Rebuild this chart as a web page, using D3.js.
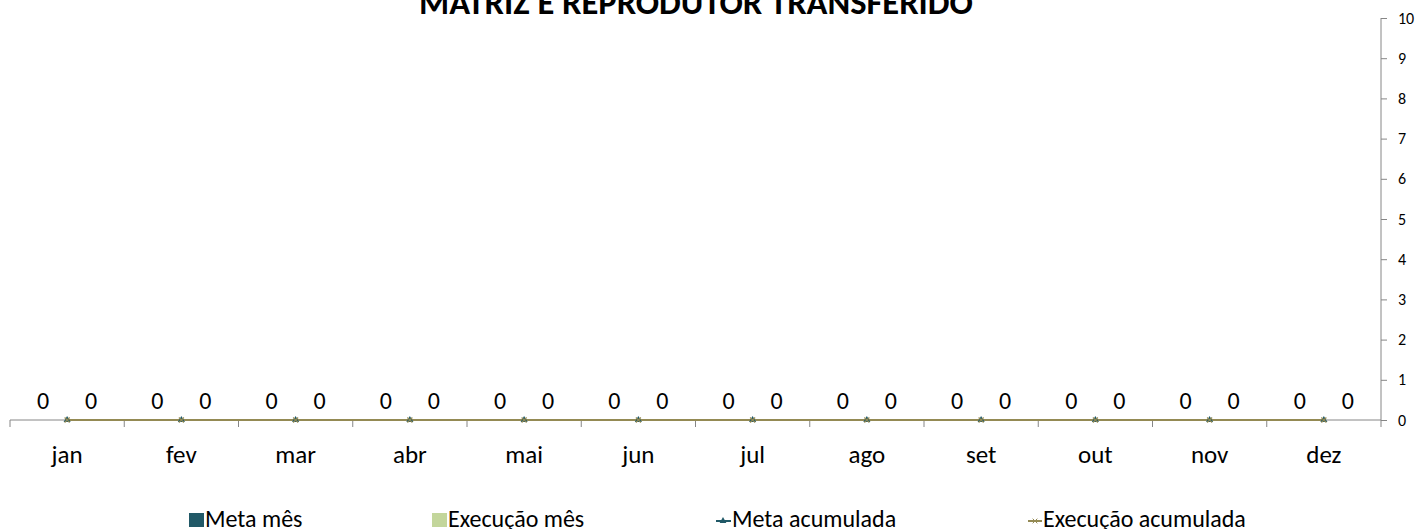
<!DOCTYPE html>
<html>
<head>
<meta charset="utf-8">
<script src="https://cdn.jsdelivr.net/npm/d3@7"></script>
<style>
  body { margin: 0; background: #fff; }
  svg { font-family: Carlito, Calibri, Lato, "Open Sans", sans-serif; }
</style>
</head>
<body>
<div id="chart"></div>
<script>
// chart data
const months = ["jan", "fev", "mar", "abr", "mai", "jun", "jul", "ago", "set", "out", "nov", "dez"];
const metaMes = [0, 0, 0, 0, 0, 0, 0, 0, 0, 0, 0, 0];
const execucaoMes = [0, 0, 0, 0, 0, 0, 0, 0, 0, 0, 0, 0];
const metaAcumulada = [0, 0, 0, 0, 0, 0, 0, 0, 0, 0, 0, 0];
const execucaoAcumulada = [0, 0, 0, 0, 0, 0, 0, 0, 0, 0, 0, 0];
const yTicks = [0, 1, 2, 3, 4, 5, 6, 7, 8, 9, 10];

const width = 1418, height = 529;
const plot = { left: 10, right: 1381, top: 18, bottom: 420 };
const colors = { meta: "#215967", exec: "#c3d69b", metaAcc: "#215967", execAcc: "#948a54", axis: "#868686" };

const svg = d3.select("#chart").append("svg")
  .attr("width", width).attr("height", height);

const x = d3.scaleBand().domain(months).range([plot.left, plot.right]);
const xSeries = d3.scaleBand().domain(["meta", "exec"]).range([0, x.bandwidth()]).paddingInner(0).paddingOuter(0.19);
const y = d3.scaleLinear().domain([0, 10]).range([plot.bottom, plot.top]);

// title (top is cut off in the original too)
svg.append("text")
  .attr("x", 696).attr("y", 14)
  .attr("text-anchor", "middle")
  .attr("font-size", 34.5).attr("font-weight", "bold")
  .text("MATRIZ E REPRODUTOR TRANSFERIDO");

// right value axis
const yAxis = svg.append("g")
  .attr("transform", `translate(${plot.right},0)`)
  .call(d3.axisRight(y).tickValues(yTicks).tickSize(6).tickPadding(11).tickFormat(d3.format("d")));
yAxis.select(".domain").attr("stroke", colors.axis).attr("d", `M0,${plot.top}V${plot.bottom}`);
yAxis.selectAll(".tick line").attr("stroke", colors.axis);
yAxis.selectAll(".tick text").attr("font-size", 16).attr("fill", "#000").attr("font-family", "Carlito, Calibri, Lato, sans-serif");

// category axis
const xAxis = svg.append("g").attr("transform", `translate(0,${plot.bottom})`);
xAxis.append("line")
  .attr("x1", plot.left).attr("x2", plot.right)
  .attr("stroke", colors.axis);
const boundaries = months.map(m => x(m)).concat([plot.right]);
xAxis.selectAll("line.tick").data(boundaries).join("line")
  .attr("class", "tick")
  .attr("x1", d => d).attr("x2", d => d)
  .attr("y1", 0).attr("y2", 7)
  .attr("stroke", colors.axis);
xAxis.selectAll("text").data(months).join("text")
  .attr("x", d => x(d) + x.bandwidth() / 2)
  .attr("y", 43)
  .attr("text-anchor", "middle")
  .attr("font-size", 25)
  .text(d => d);

// bars
const barData = months.flatMap((m, i) => [
  { m, key: "meta", v: metaMes[i] },
  { m, key: "exec", v: execucaoMes[i] }
]);
svg.append("g").selectAll("rect").data(barData).join("rect")
  .attr("x", d => x(d.m) + xSeries(d.key))
  .attr("width", xSeries.bandwidth())
  .attr("y", d => y(d.v))
  .attr("height", d => y(0) - y(d.v))
  .attr("fill", d => d.key === "meta" ? colors.meta : colors.exec);

// bar data labels
svg.append("g").selectAll("text").data(barData).join("text")
  .attr("x", d => x(d.m) + xSeries(d.key) + xSeries.bandwidth() / 2)
  .attr("y", d => y(d.v) - 11)
  .attr("text-anchor", "middle")
  .attr("font-size", 24)
  .text(d => d.v);

// cumulative lines
const cx = m => x(m) + x.bandwidth() / 2;
const line = d3.line().x(d => cx(d.m)).y(d => y(d.v));
const metaAccData = months.map((m, i) => ({ m, v: metaAcumulada[i] }));
const execAccData = months.map((m, i) => ({ m, v: execucaoAcumulada[i] }));

svg.append("path").datum(metaAccData)
  .attr("d", line).attr("fill", "none").attr("stroke", colors.metaAcc).attr("stroke-width", 2);
svg.append("path").datum(execAccData)
  .attr("d", line).attr("fill", "none").attr("stroke", colors.execAcc).attr("stroke-width", 2);

svg.append("g").selectAll("path").data(metaAccData).join("path")
  .attr("transform", d => `translate(${cx(d.m)},${y(d.v)})`)
  .attr("d", d3.symbol(d3.symbolTriangle, 22))
  .attr("fill", colors.metaAcc);
svg.append("g").selectAll("path").data(execAccData).join("path")
  .attr("transform", d => `translate(${cx(d.m)},${y(d.v)})`)
  .attr("d", d3.symbol(d3.symbolTimes, 18))
  .attr("fill", "none").attr("stroke", colors.execAcc).attr("stroke-width", 1.2);

// legend
const legend = svg.append("g").attr("font-size", 24);
const ly = 527;
legend.append("rect").attr("x", 189).attr("y", ly - 14).attr("width", 15).attr("height", 14).attr("fill", colors.meta);
legend.append("text").attr("x", 205).attr("y", ly).text("Meta mês");
legend.append("rect").attr("x", 432).attr("y", ly - 14).attr("width", 15).attr("height", 14).attr("fill", colors.exec);
legend.append("text").attr("x", 448).attr("y", ly).text("Execução mês");

legend.append("line").attr("x1", 716).attr("x2", 731).attr("y1", ly - 6).attr("y2", ly - 6).attr("stroke", colors.metaAcc).attr("stroke-width", 2);
legend.append("path").attr("transform", `translate(723,${ly - 6})`).attr("d", d3.symbol(d3.symbolTriangle, 20)).attr("fill", colors.metaAcc);
legend.append("text").attr("x", 732).attr("y", ly).text("Meta acumulada");

legend.append("line").attr("x1", 1028).attr("x2", 1042).attr("y1", ly - 6).attr("y2", ly - 6).attr("stroke", colors.execAcc).attr("stroke-width", 2);
legend.append("path").attr("transform", `translate(1035,${ly - 6})`).attr("d", d3.symbol(d3.symbolTimes, 16)).attr("fill", "none").attr("stroke", colors.execAcc);
legend.append("text").attr("x", 1043).attr("y", ly).text("Execução acumulada");
</script>
</body>
</html>
